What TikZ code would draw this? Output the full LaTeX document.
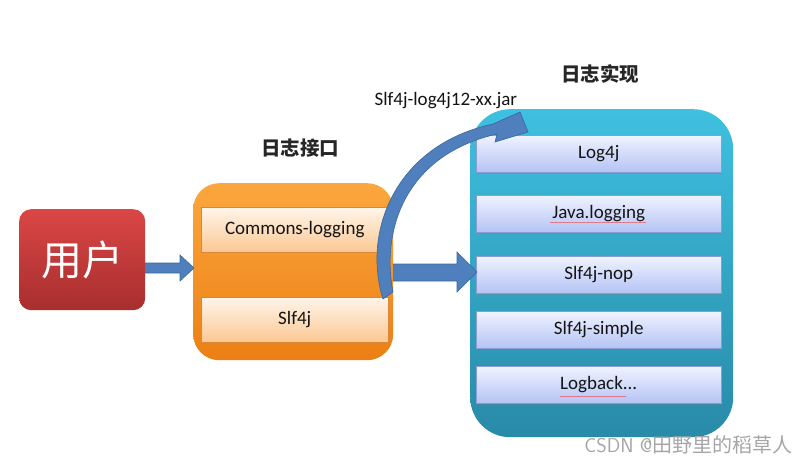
\documentclass[tikz,border=0pt]{standalone}
\usepackage{fontspec}
\setmainfont{Carlito}
\newfontfamily\cjk{Noto Sans CJK SC}
\usetikzlibrary{shadows}
\definecolor{arrowblue}{HTML}{4F7FBC}
\definecolor{arrowedge}{HTML}{3A679E}
\definecolor{redtop}{HTML}{DA4646}
\definecolor{redbot}{HTML}{A82E2E}
\definecolor{orgtop}{HTML}{FBA73E}
\definecolor{orgbot}{HTML}{EC7F14}
\definecolor{blutop}{HTML}{3FC0E0}
\definecolor{blubot}{HTML}{288AA8}
\definecolor{ibtop}{HTML}{F0F3FF}
\definecolor{ibbot}{HTML}{B4C3F4}
\definecolor{ibedge}{HTML}{8C9CD2}
\definecolor{iotop}{HTML}{FFF5EA}
\definecolor{iobot}{HTML}{FBC892}
\definecolor{ioedge}{HTML}{D9883A}
\tikzset{
  x=1pt, y=-1pt,
  outerbox/.style={rounded corners=#1, draw=none},
  orangeinner/.style={top color=iotop, bottom color=iobot, draw=ioedge, line width=0.5pt},
  blueinner/.style={top color=ibtop, bottom color=ibbot, draw=ibedge, line width=0.5pt, drop shadow={shadow xshift=1pt, shadow yshift=-1.5pt, opacity=0.35}},
  boxtext/.style={font=\fontsize{19}{21}\selectfont, text=black!92},
  title/.style={font=\cjk\bfseries\fontsize{19.5}{21}\selectfont, text=black!85},
  fatarrow/.style={fill=arrowblue, draw=arrowedge, line width=0.6pt},
  squiggle/.style={red!85, line width=0.35pt}
}
\begin{document}
\begin{tikzpicture}
\useasboundingbox[fill=white] (0,0) rectangle (812,464);

% user box
\node[outerbox=12, top color=redtop, bottom color=redbot, minimum width=126pt, minimum height=101pt, anchor=north west, inner sep=0pt] (user) at (19,209) {};
\node[text=white, font=\cjk\fontsize{41}{44}\selectfont] (usert) at (user.center) {用户};

% orange box
\node[outerbox=26, top color=orgtop, bottom color=orgbot, minimum width=200pt, minimum height=177pt, anchor=north west, inner sep=0pt] (iface) at (193,183) {};
\node[orangeinner, minimum width=187pt, minimum height=45pt, anchor=north west, inner sep=0pt, boxtext] (cl) at (201,207) {Commons-logging};
\node[orangeinner, minimum width=187pt, minimum height=45pt, anchor=north west, inner sep=0pt, boxtext] (slf) at (201,297) {Slf4j};
\node[title] (tiface) at (300,148) {日志接口};

% blue box
\node[outerbox=40, top color=blutop, bottom color=blubot, minimum width=263pt, minimum height=328pt, anchor=north west, inner sep=0pt] (impl) at (470,109) {};
\node[blueinner, minimum width=245pt, minimum height=37pt, anchor=north west, inner sep=0pt, boxtext] (b1) at (476,135) {Log4j};
\node[blueinner, minimum width=245pt, minimum height=37pt, anchor=north west, inner sep=0pt, boxtext] (b2) at (476,195) {Java.logging};
\node[blueinner, minimum width=245pt, minimum height=37pt, anchor=north west, inner sep=0pt, boxtext] (b3) at (476,256) {Slf4j-nop};
\node[blueinner, minimum width=245pt, minimum height=37pt, anchor=north west, inner sep=0pt, boxtext] (b4) at (476,311) {Slf4j-simple};
\node[blueinner, minimum width=245pt, minimum height=37pt, anchor=north west, inner sep=0pt, boxtext] (b5) at (476,366) {Logback...};
\node[title] (timpl) at (600,74) {日志实现};

% wavy underlines (spell-check)
\draw[squiggle] (550,223) foreach \i in {0,...,47} {-- ++(2,{(mod(\i,2)*2-1)*0.8})};
\draw[squiggle] (560,397) foreach \i in {0,...,32} {-- ++(2,{(mod(\i,2)*2-1)*0.8})};

% straight arrows
\draw[fatarrow] (user.east |- 0,263) -- (180,263) -- (180,255) -- (194,268) -- (180,281) -- (180,273) -- (user.east |- 0,273) -- cycle;
\draw[fatarrow] (iface.east |- 0,264) -- (457,264) -- (457,252) -- (477,272) -- (457,292) -- (457,281) -- (iface.east |- 0,281) -- cycle;

% curved arrow
\draw[fatarrow] (383,299) .. controls (362,232) and (395,145) .. (493,124)
  -- (520,112) -- (528,132) -- (495,142) -- (497,134)
  .. controls (405,155) and (381,230) .. (393,292) -- cycle;
\node[boxtext, anchor=west] (jar) at (371,101) {Slf4j-log4j12-xx.jar};

% watermark
\node[text=gray!70, font=\fontsize{20}{22}\selectfont\sffamily, anchor=east] (wm) at (796,445) {CSDN @{\cjk 田野里的稻草人}};
\end{tikzpicture}
\end{document}
